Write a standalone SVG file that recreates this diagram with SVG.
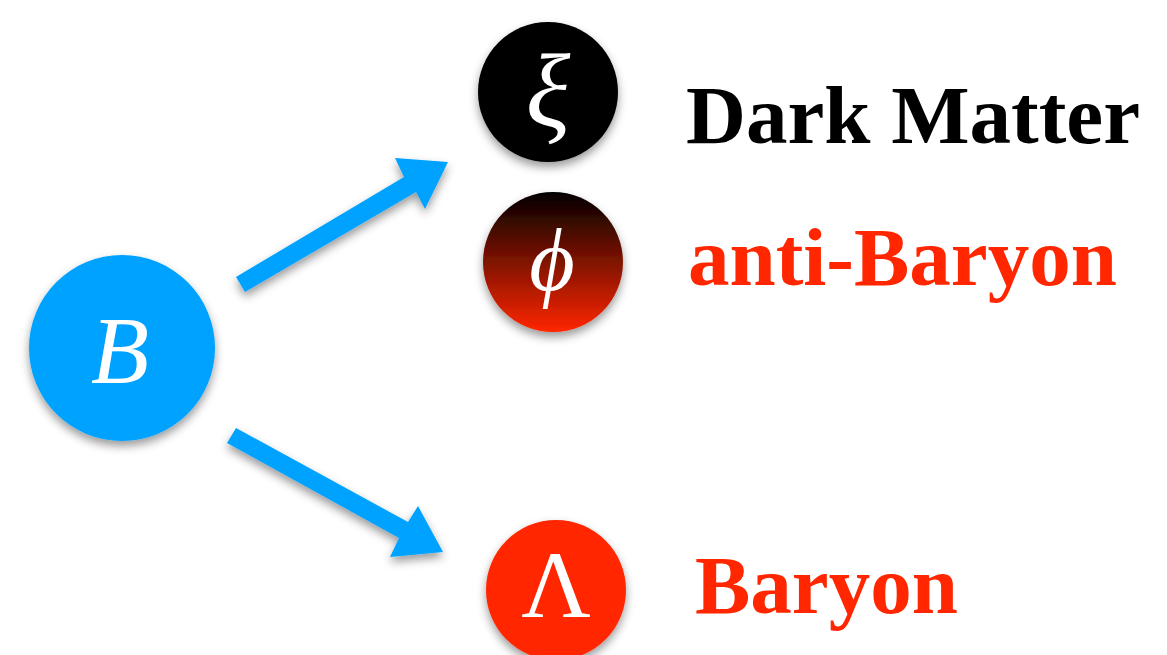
<svg xmlns="http://www.w3.org/2000/svg" width="1167" height="655" viewBox="0 0 1167 655">
  <defs>
    <filter id="shadow" x="-30%" y="-30%" width="160%" height="160%">
      <feDropShadow dx="0" dy="5" stdDeviation="5" flood-color="#000" flood-opacity="0.4"/>
    </filter>
    <linearGradient id="phiFill" x1="0" y1="0" x2="0" y2="1">
      <stop offset="0" stop-color="#000000"/>
      <stop offset="1" stop-color="#FF2600"/>
    </linearGradient>
    <style>
      .sym { font-family: "Liberation Serif", "DejaVu Serif", serif; fill: #fff; text-anchor: middle; }
      .label { font-family: "Liberation Serif", "Times New Roman", serif; font-weight: bold; font-size: 83px; }
      .arrow { fill: #00A2FF; filter: url(#shadow); }
    </style>
  </defs>
  <rect width="1167" height="655" fill="#fff"/>

  <!-- connectors -->
  <g id="connectors">
    <polygon class="arrow" points="236,277 404,177 395,158 448,162 425,209 416,192 245,292"/>
    <polygon class="arrow" points="236,428 408,522 418,506 443,552 390,557 399,538 227,443"/>
  </g>

  <g id="node-B">
    <circle cx="122" cy="348" r="93" fill="#00A2FF" filter="url(#shadow)"/>
    <text class="sym" x="120" y="383" font-size="95" font-style="italic">B</text>
  </g>

  <g id="node-xi">
    <circle cx="548" cy="92" r="70" fill="#000" filter="url(#shadow)"/>
    <text class="sym" x="548" y="126" font-size="104" font-style="italic">ξ</text>
  </g>

  <g id="node-phi">
    <circle cx="553" cy="262" r="70" fill="url(#phiFill)" filter="url(#shadow)"/>
    <text class="sym" x="552" y="290" font-size="88" font-style="italic">ϕ</text>
  </g>

  <g id="node-lambda">
    <circle cx="556" cy="590" r="70" fill="#FF2600" filter="url(#shadow)"/>
    <text class="sym" x="556" y="617" font-size="96">Λ</text>
  </g>

  <g id="labels">
    <text class="label" x="686" y="143" fill="#000">Dark Matter</text>
    <text class="label" x="688" y="285" fill="#FF2600">anti-Baryon</text>
    <text class="label" x="695" y="613" fill="#FF2600">Baryon</text>
  </g>
</svg>
